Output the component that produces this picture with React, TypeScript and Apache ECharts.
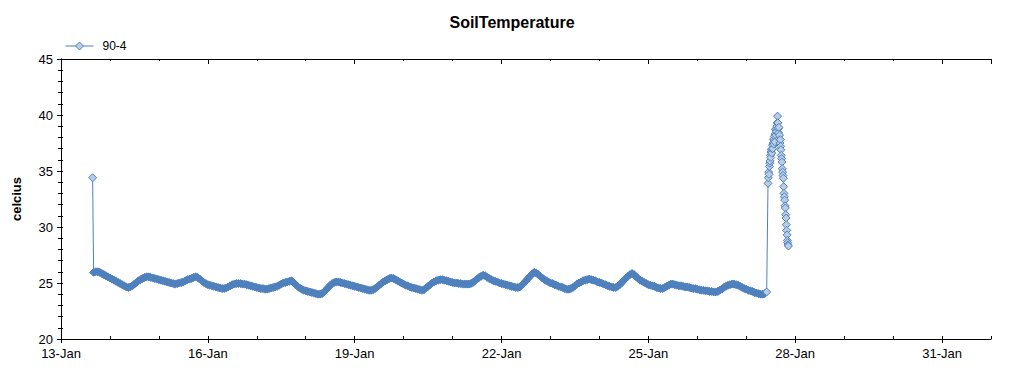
import React, { useEffect, useRef } from "react";
import * as echarts from "echarts";

// ---- data ----
const seriesName = "90-4";
const monthNames = ["Jan", "Feb", "Mar", "Apr", "May", "Jun", "Jul", "Aug", "Sep", "Oct", "Nov", "Dec"];
const baseYear = 2015;
const baseMonth = 0;
const baseDay = 13; // x = days since 13-Jan 00:00

// first reading (hours since 13-Jan 00:00, value)
const firstHour = 15.5;
const firstValue = 34.4;

// hourly readings starting 13-Jan 16:00
const hourlyStartHour = 16;
const hourlyValues = [
  25.95, 26.0, 26.0, 25.95, 25.85, 25.75, 25.65, 25.55, 25.45, 25.35, 25.25, 25.15, 25.05, 24.95, 24.85, 24.75, 24.65, 24.6,
  24.65, 24.75, 24.9, 25.05, 25.2, 25.3, 25.4, 25.5, 25.55, 25.55, 25.5, 25.45, 25.4, 25.35, 25.3, 25.25, 25.2, 25.15,
  25.1, 25.05, 25.0, 24.95, 24.9, 24.95, 25.0, 25.05, 25.1, 25.2, 25.3, 25.35, 25.4, 25.5, 25.55, 25.5, 25.35, 25.2,
  25.05, 24.95, 24.85, 24.8, 24.75, 24.7, 24.65, 24.6, 24.55, 24.5, 24.5, 24.55, 24.65, 24.75, 24.85, 24.9, 24.95, 24.95,
  24.95, 24.9, 24.9, 24.85, 24.8, 24.75, 24.7, 24.65, 24.6, 24.55, 24.5, 24.5, 24.45, 24.45, 24.5, 24.55, 24.6, 24.65,
  24.7, 24.8, 24.9, 25.0, 25.05, 25.1, 25.15, 25.2, 25.05, 24.85, 24.7, 24.55, 24.45, 24.35, 24.3, 24.25, 24.2, 24.15,
  24.1, 24.05, 24.0, 24.0, 24.05, 24.2, 24.4, 24.6, 24.8, 24.95, 25.05, 25.1, 25.1, 25.05, 25.0, 24.95, 24.9, 24.85,
  24.8, 24.75, 24.7, 24.65, 24.6, 24.55, 24.5, 24.45, 24.4, 24.35, 24.35, 24.4, 24.5, 24.65, 24.8, 24.95, 25.1, 25.2,
  25.3, 25.4, 25.45, 25.4, 25.3, 25.2, 25.1, 25.0, 24.9, 24.8, 24.75, 24.65, 24.6, 24.55, 24.5, 24.45, 24.4, 24.35,
  24.4, 24.55, 24.7, 24.85, 25.0, 25.1, 25.2, 25.25, 25.3, 25.3, 25.25, 25.2, 25.15, 25.1, 25.05, 25.0, 25.0, 24.95,
  24.95, 24.9, 24.9, 24.9, 24.9, 24.95, 25.05, 25.2, 25.35, 25.5, 25.6, 25.7, 25.65, 25.5, 25.4, 25.3, 25.2, 25.15,
  25.1, 25.0, 24.95, 24.9, 24.85, 24.8, 24.75, 24.7, 24.65, 24.6, 24.6, 24.65, 24.8, 25.0, 25.2, 25.4, 25.6, 25.8,
  25.95, 25.9, 25.75, 25.6, 25.45, 25.3, 25.2, 25.1, 25.0, 24.95, 24.85, 24.8, 24.7, 24.65, 24.6, 24.5, 24.45, 24.45,
  24.5, 24.6, 24.75, 24.9, 25.0, 25.1, 25.2, 25.25, 25.3, 25.35, 25.3, 25.25, 25.2, 25.1, 25.05, 25.0, 24.9, 24.85,
  24.75, 24.7, 24.65, 24.6, 24.6, 24.7, 24.85, 25.05, 25.25, 25.45, 25.6, 25.75, 25.85, 25.75, 25.55, 25.4, 25.25, 25.15,
  25.05, 24.95, 24.85, 24.8, 24.75, 24.7, 24.6, 24.55, 24.5, 24.5, 24.6, 24.7, 24.8, 24.9, 24.9, 24.85, 24.8, 24.75,
  24.75, 24.7, 24.65, 24.65, 24.6, 24.55, 24.5, 24.5, 24.45, 24.4, 24.35, 24.35, 24.3, 24.3, 24.25, 24.25, 24.2, 24.2,
  24.25, 24.35, 24.45, 24.6, 24.7, 24.8, 24.85, 24.9, 24.9, 24.85, 24.8, 24.7, 24.6, 24.5, 24.45, 24.35, 24.3, 24.25,
  24.15, 24.1, 24.05, 24.0, 24.0, 24.05, 24.2,
];

// 10-minute readings starting 27-Jan 10:40
const spikeStartHour = 346 + 40 / 60;
const spikeStepHours = 10 / 60;
const spikeValues = [
  33.9, 34.4, 34.9, 34.7, 35.4, 35.7, 35.9, 36.4, 36.2, 36.7, 36.9, 36.6, 37.0, 37.3, 37.0, 37.5, 37.8, 37.4, 37.9, 38.1,
  37.6, 38.3, 38.7, 38.2, 38.8, 38.5, 39.0, 39.3, 39.9,
  39.3, 38.8, 38.4, 38.9, 37.9, 38.2, 37.5, 37.8, 37.2, 36.9, 36.4, 36.1, 35.8, 35.2, 34.9, 34.6, 34.35, 33.6, 33.0, 32.7,
  32.4, 31.9, 31.7, 31.1, 30.8, 30.2, 29.7, 29.3, 28.8, 28.6, 28.4, 28.3,
];

// axes
const xMinDay = 0;
const xMaxDay = 19;
const xMajorDays = 3;
const yMin = 20;
const yMax = 45;
const yStep = 5;

const titleText = "SoilTemperature";
const yAxisName = "celcius";

const FONT = "'Liberation Sans', Arial, sans-serif";
const BLUE = "#4f81bd";
const FILL = "#b9cde5";

function buildData() {
  const out: any[] = [[firstHour / 24, firstValue]];
  const last = hourlyValues.length - 1;
  hourlyValues.forEach((v, i) => {
    const p = [(hourlyStartHour + i) / 24, v];
    // densely overlapping markers merge into their border colour
    out.push(i === last ? p : { value: p, itemStyle: { color: BLUE } });
  });
  spikeValues.forEach((v, i) => out.push([(spikeStartHour + i * spikeStepHours) / 24, v]));
  return out;
}

function dayLabel(v: number): string {
  const d = new Date(baseYear, baseMonth, baseDay + Math.round(v));
  return `${d.getDate()}-${monthNames[d.getMonth()]}`;
}

export default function App() {
  const ref = useRef<HTMLDivElement>(null);
  useEffect(() => {
    if (!ref.current) return;
    const chart = echarts.init(ref.current, undefined, { renderer: "svg" });
    const grid = { left: 61, top: 59, right: 33, bottom: 36, containLabel: false };
    const xBase = {
      type: "value" as const,
      min: xMinDay,
      max: xMaxDay,
      interval: xMajorDays,
      splitLine: { show: false },
    };
    const yBase = {
      type: "value" as const,
      min: yMin,
      max: yMax,
      interval: yStep,
      splitLine: { show: false },
    };
    const line = { show: true, lineStyle: { color: "#000", width: 1 } };
    chart.setOption({
      animation: false,
      backgroundColor: "#fff",
      title: {
        text: titleText,
        left: "center",
        top: 9,
        textStyle: { fontFamily: FONT, fontSize: 16, fontWeight: "bold", color: "#000" },
      },
      legend: {
        left: 65,
        top: 40,
        padding: 0,
        itemWidth: 28,
        itemHeight: 10,
        textStyle: { fontFamily: FONT, fontSize: 12, color: "#000", padding: [0, 0, 0, 4] },
        data: [
          {
            name: seriesName,
            itemStyle: { color: FILL, borderColor: BLUE, borderWidth: 1 },
            lineStyle: { color: BLUE, width: 1 },
          },
        ],
      },
      grid: [grid, { ...grid }],
      xAxis: [
        {
          ...xBase,
          gridIndex: 0,
          position: "bottom",
          axisLine: line,
          axisTick: { show: true, inside: false, length: 4, lineStyle: { color: "#000" } },
          minorTick: { show: false },
          axisLabel: {
            show: true,
            margin: 8,
            fontFamily: FONT,
            fontSize: 13,
            color: "#000",
            showMaxLabel: false,
            formatter: (v: number) => dayLabel(v),
          },
        },
        {
          ...xBase,
          gridIndex: 0,
          position: "top",
          axisLine: line,
          axisTick: { show: true, inside: true, length: 5, lineStyle: { color: "#000" } },
          minorTick: { show: true, splitNumber: 3, length: 2, lineStyle: { color: "#000" } },
          axisLabel: { show: false },
        },
        {
          ...xBase,
          gridIndex: 1,
          position: "bottom",
          axisLine: { show: false },
          axisTick: { show: true, inside: true, length: 3, lineStyle: { color: "#000" } },
          minorTick: { show: true, splitNumber: 3, length: 3, lineStyle: { color: "#000" } },
          axisLabel: { show: false },
        },
      ],
      yAxis: [
        {
          ...yBase,
          gridIndex: 0,
          position: "left",
          axisLine: line,
          axisTick: { show: true, inside: false, length: 4, lineStyle: { color: "#000" } },
          minorTick: { show: true, splitNumber: 5, length: 2, lineStyle: { color: "#000" } },
          axisLabel: { show: true, margin: 8, fontFamily: FONT, fontSize: 13, color: "#000" },
          name: yAxisName,
          nameLocation: "middle",
          nameGap: 38,
          nameTextStyle: { fontFamily: FONT, fontSize: 13, fontWeight: "bold", color: "#000" },
        },
        {
          ...yBase,
          gridIndex: 0,
          position: "right",
          axisLine: line,
          axisTick: { show: true, inside: true, length: 4, lineStyle: { color: "#000" } },
          minorTick: { show: true, splitNumber: 5, length: 3, lineStyle: { color: "#000" } },
          axisLabel: { show: false },
        },
        {
          ...yBase,
          gridIndex: 1,
          position: "left",
          axisLine: { show: false },
          axisTick: { show: true, inside: true, length: 2, lineStyle: { color: "#000" } },
          minorTick: { show: true, splitNumber: 5, length: 2, lineStyle: { color: "#000" } },
          axisLabel: { show: false },
        },
      ],
      series: [
        {
          name: seriesName,
          type: "line",
          xAxisIndex: 0,
          yAxisIndex: 0,
          data: buildData(),
          symbol: "diamond",
          symbolSize: 8,
          showSymbol: true,
          showAllSymbol: true,
          itemStyle: { color: FILL, borderColor: BLUE, borderWidth: 1 },
          lineStyle: { color: BLUE, width: 1 },
          emphasis: { disabled: true },
        },
      ],
    });
    return () => chart.dispose();
  }, []);
  return (
    <div
      ref={ref}
      style={{ position: "absolute", left: 0, top: 0, width: 1024, height: 375 }}
    />
  );
}
